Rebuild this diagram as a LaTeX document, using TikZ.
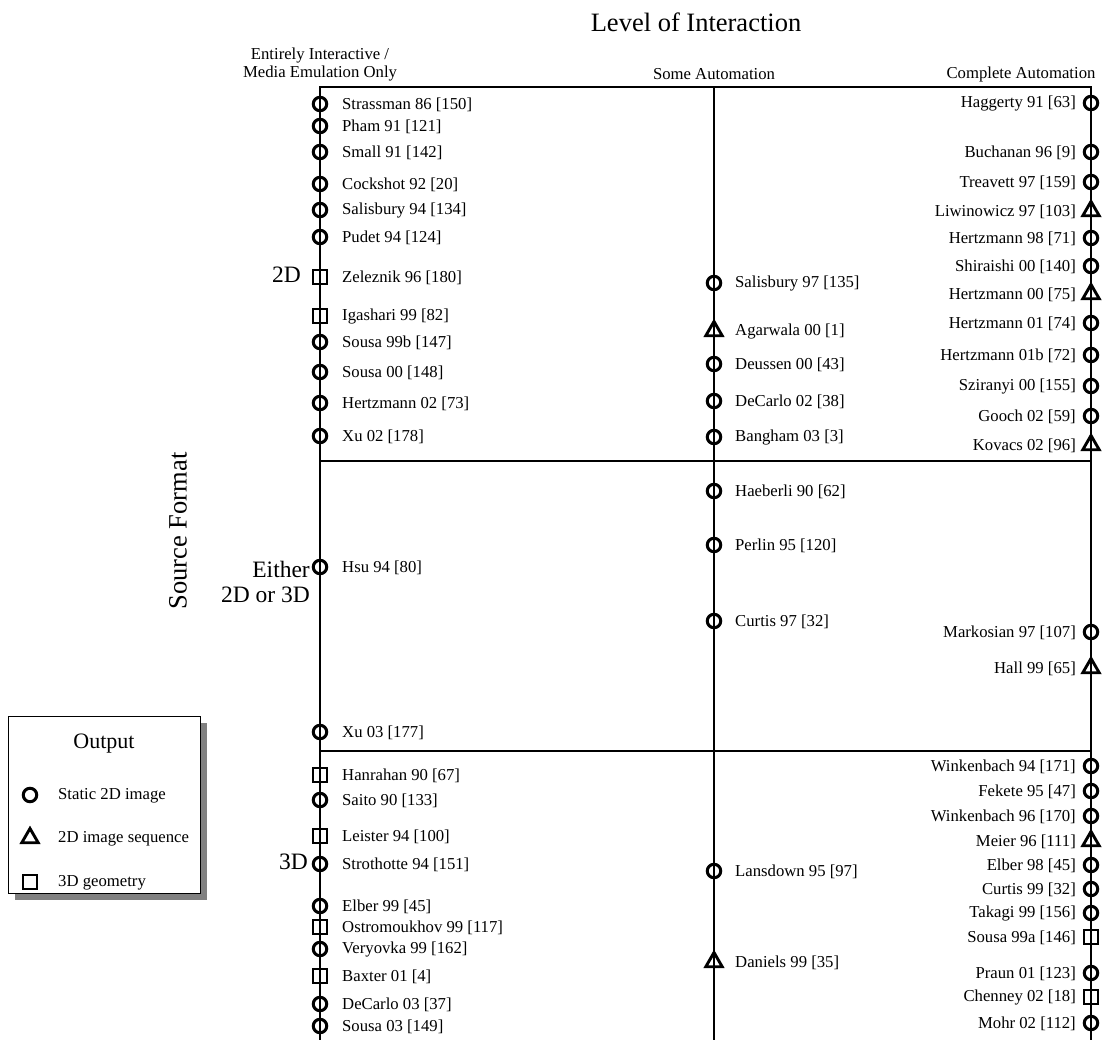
\documentclass[tikz,border=0pt]{standalone}
\usepackage{fontspec}
\setmainfont{Liberation Serif}
\usetikzlibrary{shapes.geometric,shadows}

\begin{document}
\begin{tikzpicture}[x=1pt,y=-1pt,
   axis/.style={line width=1.2pt},
   circ/.style={draw, circle, line width=3pt, minimum size=13.5pt, inner sep=0pt},
   tri/.style={draw, regular polygon, regular polygon sides=3, line width=2.9pt,
               minimum size=19pt, inner sep=0pt},
   sqr/.style={draw, rectangle, line width=2.9pt, minimum size=14pt, inner sep=0pt},
   lbl/.style={font=\fontsize{16.7}{18}\selectfont, inner sep=0pt},
   big/.style={font=\fontsize{26.5}{30}\selectfont, inner sep=0pt},
   side/.style={font=\fontsize{23.5}{25.5}\selectfont, inner sep=0pt, align=right}]
  \useasboundingbox (0,0) rectangle (1103,1040);
  % grid
  \coordinate (tl) at (320,87);   \coordinate (tm) at (714,87);   \coordinate (tr) at (1091,87);
  \coordinate (bl) at (320,1040); \coordinate (bm) at (714,1040); \coordinate (br) at (1091,1040);
  \coordinate (al) at (320,461);  \coordinate (ar) at (1091,461);
  \coordinate (cl) at (320,751);  \coordinate (cr) at (1091,751);
  \draw[axis] (bl) -- (tl) -- (tr) -- (br);
  \draw[axis] (tm) -- (bm);
  \draw[axis] (al) -- (ar);
  \draw[axis] (cl) -- (cr);
  % headings
  \node[big] (title) at (696,22) {Level of Interaction};
  \node[big, rotate=90] (src) at (178,531) {Source Format};
  \node[lbl, align=center] (hInt) at (320,65) {Entirely Interactive /\\Media Emulation Only};
  \node[lbl] (hSome) at (714,74) {Some Automation};
  \node[lbl] (hAll) at (1021,74) {Complete Automation};
  \node[side, anchor=east] (s2D) at (301,275) {2D};
  \node[side, anchor=east] (sAny) at (310,582) {Either\\2D or 3D};
  \node[side, anchor=east] (s3D) at (308,862) {3D};
  % interactive column
  \foreach \y/\s/\t [count=\i] in {104/circ/Strassman 86 [150], 126/circ/Pham 91 [121],
      152/circ/Small 91 [142], 184/circ/Cockshot 92 [20], 210/circ/Salisbury 94 [134],
      237/circ/Pudet 94 [124], 277/sqr/Zeleznik 96 [180], 316/sqr/Igashari 99 [82],
      342/circ/Sousa 99b [147], 372/circ/Sousa 00 [148], 403/circ/Hertzmann 02 [73],
      436/circ/Xu 02 [178], 567/circ/Hsu 94 [80], 732/circ/Xu 03 [177],
      775/sqr/Hanrahan 90 [67], 800/circ/Saito 90 [133], 836/sqr/Leister 94 [100],
      864/circ/Strothotte 94 [151], 906/circ/Elber 99 [45], 927/sqr/Ostromoukhov 99 [117],
      949/circ/Veryovka 99 [162], 976/sqr/Baxter 01 [4], 1004/circ/DeCarlo 03 [37],
      1026/circ/Sousa 03 [149]}{
    \node[\s] (l\i) at (320,\y) {};
    \node[lbl, anchor=west] (lt\i) at (342,\y+1) {\t};
  }
  % some automation column
  \foreach \y/\s/\t [count=\i] in {283/circ/Salisbury 97 [135], 331/tri/Agarwala 00 [1],
      364/circ/Deussen 00 [43], 401/circ/DeCarlo 02 [38], 437/circ/Bangham 03 [3],
      491/circ/Haeberli 90 [62], 545/circ/Perlin 95 [120], 621/circ/Curtis 97 [32],
      871/circ/Lansdown 95 [97], 962/tri/Daniels 99 [35]}{
    \node[\s] (m\i) at (714,\y) {};
    \node[lbl, anchor=west] (mt\i) at (735,\y+1) {\t};
  }
  % complete automation column
  \foreach \y/\s/\t [count=\i] in {103/circ/Haggerty 91 [63], 152/circ/Buchanan 96 [9],
      182/circ/Treavett 97 [159], 211/tri/Liwinowicz 97 [103], 238/circ/Hertzmann 98 [71],
      266/circ/Shiraishi 00 [140], 294/tri/Hertzmann 00 [75], 323/circ/Hertzmann 01 [74],
      355/circ/Hertzmann 01b [72], 386/circ/Sziranyi 00 [155], 416/circ/Gooch 02 [59],
      445/tri/Kovacs 02 [96], 632/circ/Markosian 97 [107], 668/tri/Hall 99 [65],
      766/circ/Winkenbach 94 [171], 791/circ/Fekete 95 [47], 816/circ/Winkenbach 96 [170],
      841/tri/Meier 96 [111], 865/circ/Elber 98 [45], 889/circ/Curtis 99 [32],
      913/circ/Takagi 99 [156], 937/sqr/Sousa 99a [146], 973/circ/Praun 01 [123],
      997/sqr/Chenney 02 [18], 1023/circ/Mohr 02 [112]}{
    \node[\s] (r\i) at (1091,\y) {};
    \node[lbl, anchor=east] (rt\i) at (1076,\y+1) {\t};
  }
  % legend
  \node[draw, fill=white, line width=0.8pt, minimum width=192pt, minimum height=177pt,
        drop shadow={shadow xshift=7pt, shadow yshift=-7pt, fill=gray, opacity=1}]
        (legend) at (104,804.5) {};
  \node[font=\fontsize{22}{24}\selectfont, inner sep=0pt] (outT) at (104,744) {Output};
  \node[circ] (kc) at (30,795) {};
  \node[tri] (kt) at (30,838) {};
  \node[sqr] (ks) at (30,882) {};
  \node[lbl, anchor=west] (kct) at (58,796) {Static 2D image};
  \node[lbl, anchor=west] (ktt) at (58,839) {2D image sequence};
  \node[lbl, anchor=west] (kst) at (58,883) {3D geometry};
\end{tikzpicture}
\end{document}
